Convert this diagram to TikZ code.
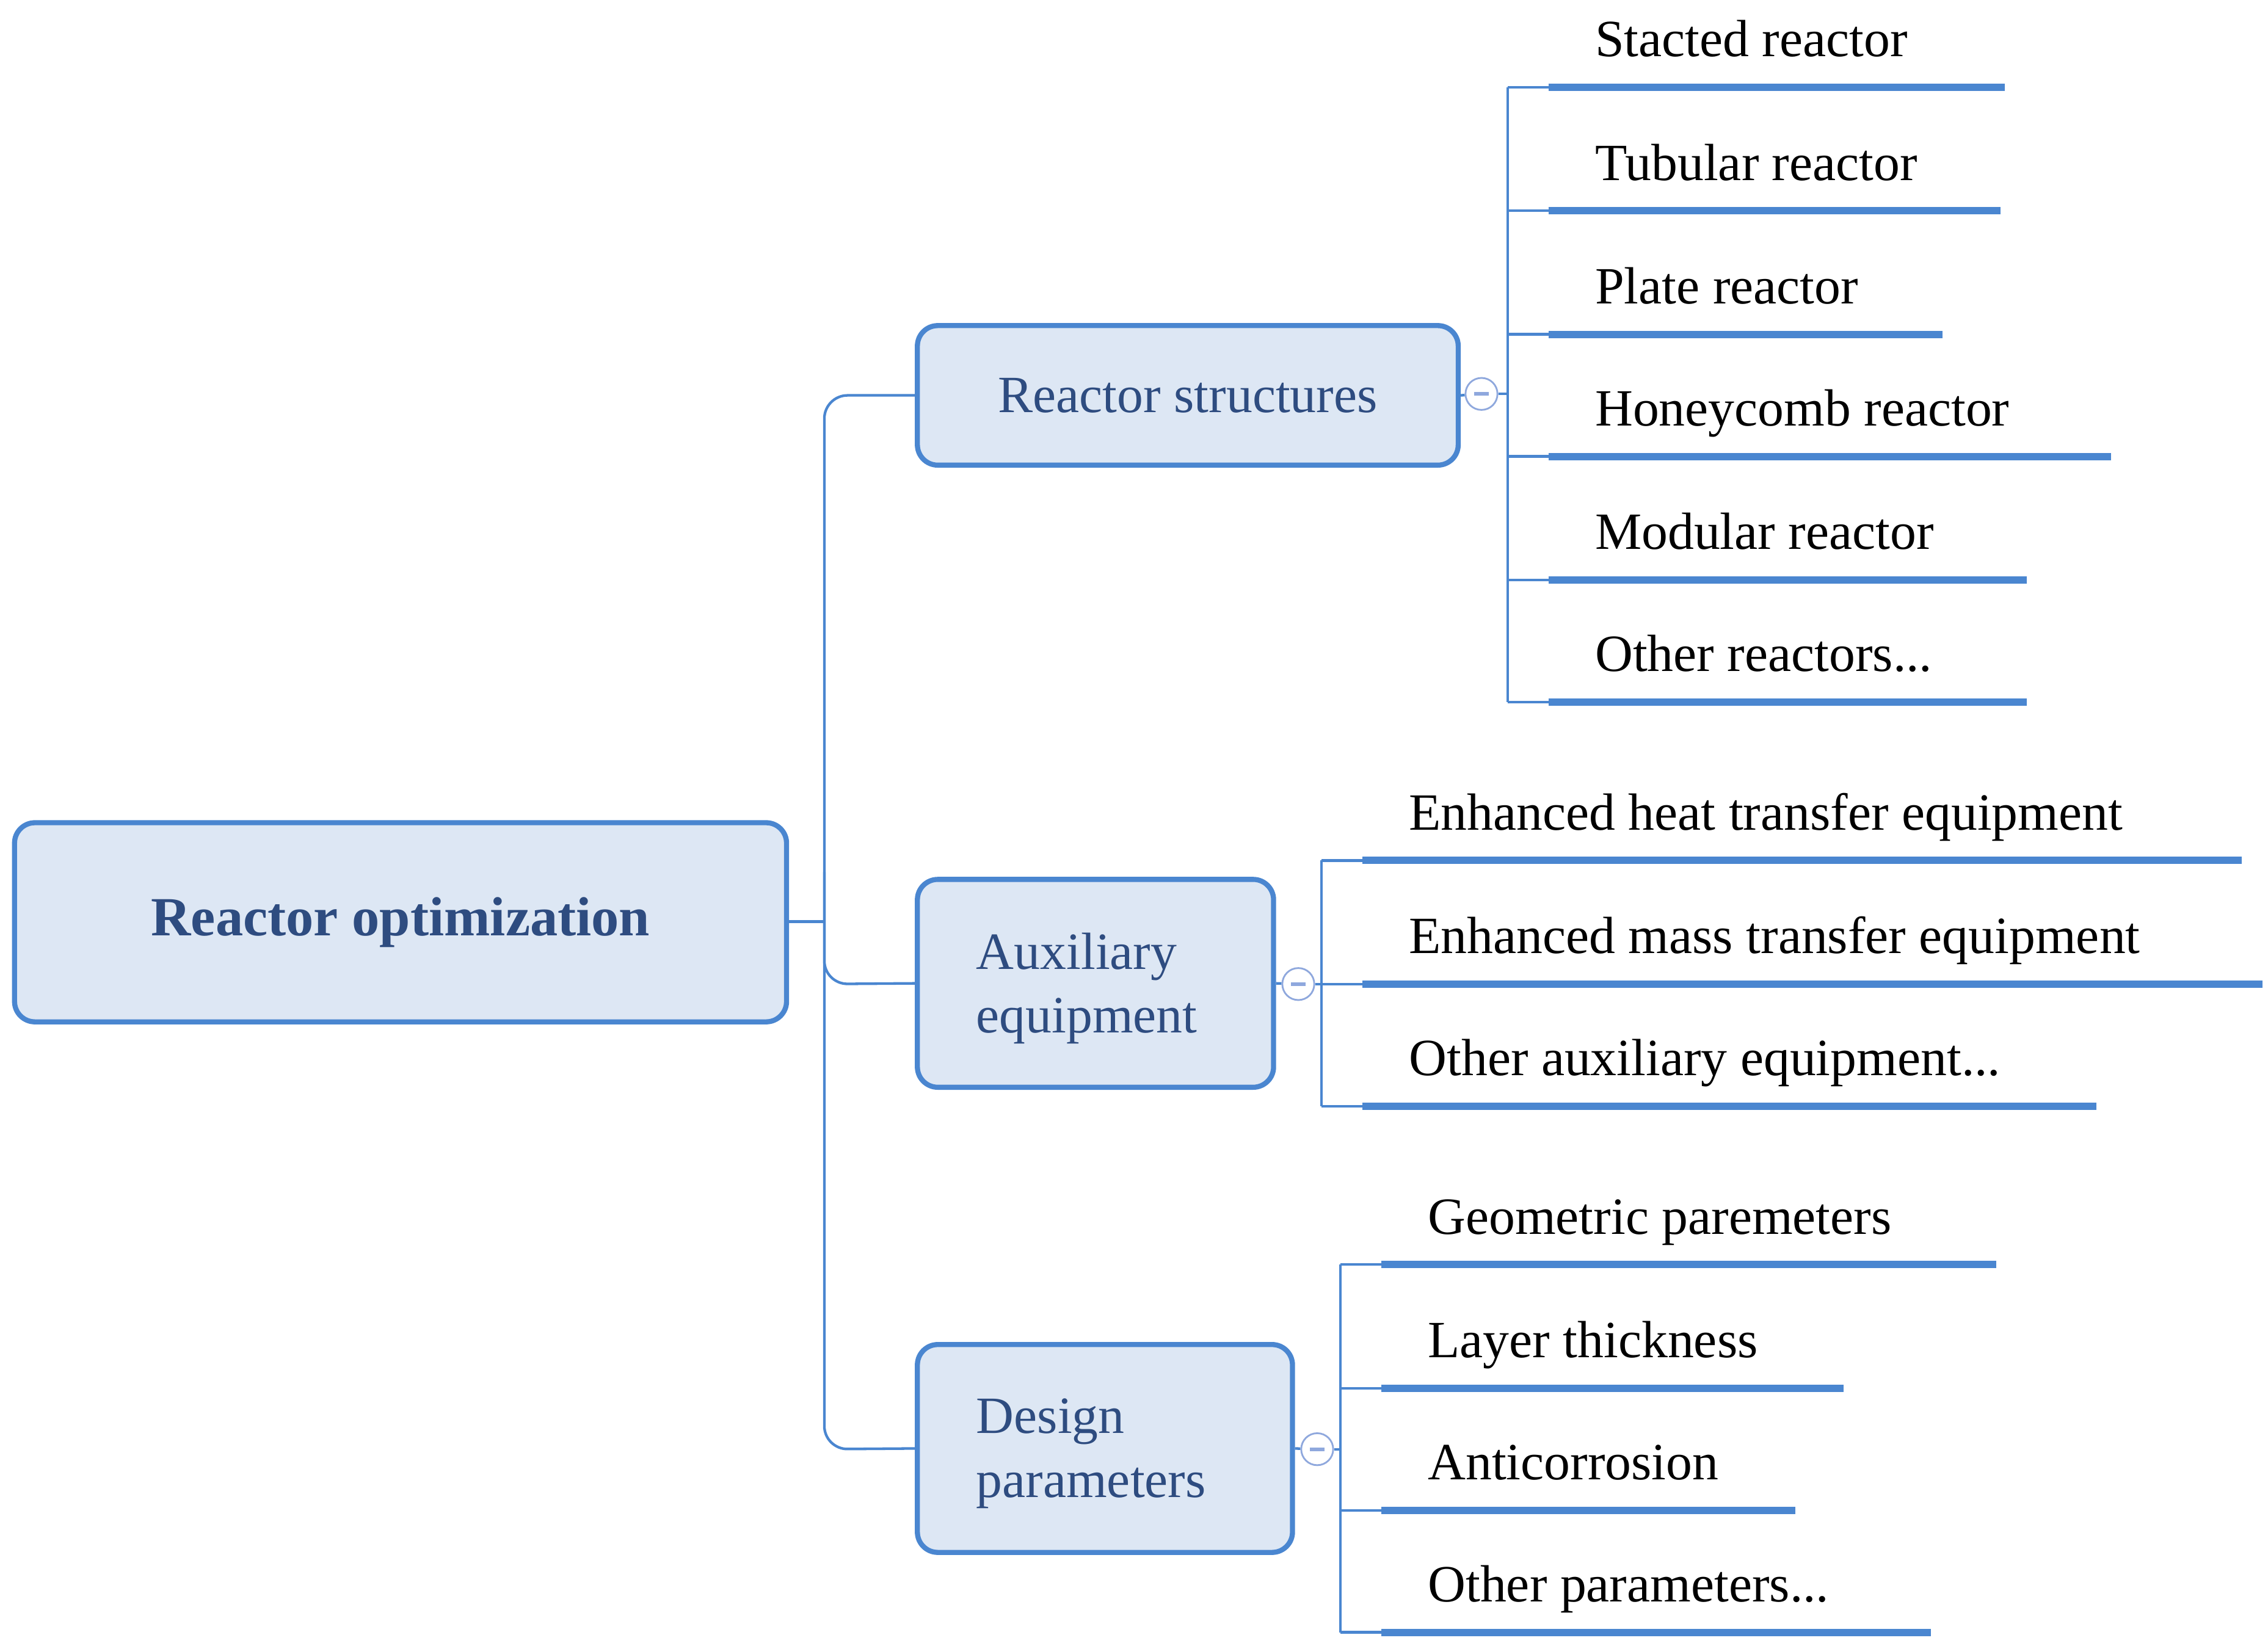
\documentclass[tikz,border=0pt]{standalone}
\usepackage{fontspec}
\setmainfont{Liberation Serif}
\definecolor{ln}{HTML}{4A86D0}
\definecolor{bx}{HTML}{DDE7F4}
\definecolor{tx}{HTML}{2E4C80}
\definecolor{cc}{HTML}{8FA8DD}
\begin{document}
\begin{tikzpicture}[x=1pt,y=-1pt,
 box/.style={draw=ln,line width=3.5pt,fill=bx,rounded corners=14pt,inner sep=0pt},
 conn/.style={draw=ln,line width=1.8pt},
 under/.style={draw=ln,line width=5pt},
 leaf/.style={anchor=base west,inner sep=0pt,font=\fontsize{36}{40}\selectfont},
 btxt/.style={text=tx,font=\fontsize{36}{44}\selectfont,align=left},
 mc/.style={circle,draw=cc,line width=1.2pt,fill=white,minimum size=22pt,inner sep=0pt}]
\useasboundingbox (0,0) rectangle (1560,1132);
% boxes
\node[box,minimum width=531pt,minimum height=137pt] (root) at (275.5,634.5) {};
\node[text=tx,font=\bfseries\fontsize{38}{44}\selectfont] at (root) {Reactor optimization};
\node[box,minimum width=372pt,minimum height=96pt] (rs) at (817,272) {};
\node[btxt] at (rs) {Reactor structures};
\node[box,minimum width=245pt,minimum height=143pt] (ae) at (753.5,676.5) {};
\node[btxt,anchor=west] at (668,680) {Auxiliary\\equipment};
\node[box,minimum width=258pt,minimum height=143pt] (dp) at (760,996.5) {};
\node[btxt,anchor=west] at (668,1000) {Design\\parameters};
% trunk
\coordinate (t) at (567,634);
\draw[conn] (root.east |- t) -- (t);
\draw[conn,rounded corners=16pt] (rs.west) -- (567,272) -- (567,997) -- (dp.west);
\draw[conn,rounded corners=16pt] (567,600) -- (567,677) -- (ae.west);
% minus circles
\foreach \n/\x/\y/\v in {c1/1019/271/1037,c2/893/677/909,c3/906/997/922}{
  \node[mc] (\n) at (\x,\y) {};
  \draw[cc,line width=2.5pt] (\x-5,\y) -- (\x+5,\y);
  \coordinate (\n v) at (\v,\y);
  \draw[conn] (\n) -- (\n v);
}
\draw[conn] (rs.east) -- (c1); \draw[conn] (ae.east) -- (c2); \draw[conn] (dp.east) -- (c3);
% leaves
\newcommand\grp[5]{% vx, ytop, ybot, ux, list y/end/text
  \draw[conn] (#1,#2) -- (#1,#3);
  \foreach \y/\e/\t [count=\i] in {#5}{
    \coordinate (s\i) at (#1,\y); \coordinate (u\i) at (#4,\y); \coordinate (e\i) at (\e,\y);
    \draw[conn] (s\i) -- (u\i);
    \draw[under] (u\i) -- (e\i);
    \node[leaf] (l\i) at (#4+32,\y-21) {\t};
  }}
\grp{1037}{60}{483}{1065}{60/1379/{Stacted reactor},145/1376/{Tubular reactor},230/1336/{Plate reactor},314/1452/{Honeycomb reactor},399/1394/{Modular reactor},483/1394/{Other reactors...}}
\grp{909}{592}{761}{937}{592/1542/{Enhanced heat transfer equipment},677/1556/{Enhanced mass transfer equipment},761/1442/{Other auxiliary equipment...}}
\grp{922}{870}{1123}{950}{870/1373/{Geometric paremeters},955/1268/{Layer thickness},1039/1235/{Anticorrosion},1123/1328/{Other parameters...}}
\end{tikzpicture}
\end{document}
